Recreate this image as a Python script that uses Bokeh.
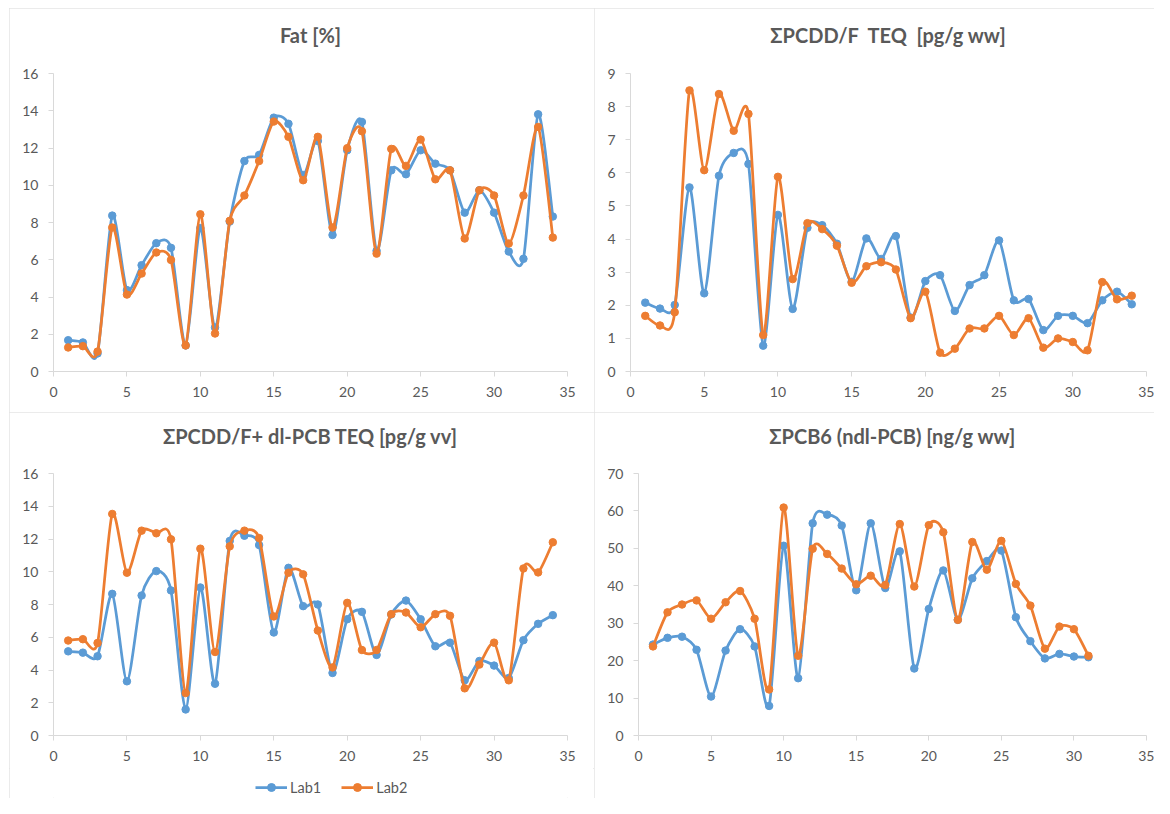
from bokeh.plotting import figure
from bokeh.layouts import column, row
from bokeh.models import Range1d, FixedTicker, Legend, LegendItem, Spacer, Title
from bokeh.embed import file_html
from bokeh.resources import INLINE

# ---------------- data ----------------
samples34 = list(range(1, 35))
samples31 = list(range(1, 32))

fat_lab1 = [1.68, 1.56, 0.97, 8.37, 4.37, 5.71, 6.89, 6.64, 1.40, 7.7, 2.36, 8.05, 11.3, 11.63, 13.63, 13.3,
            10.55, 12.38, 7.33, 11.88, 13.4, 6.48, 10.8, 10.59, 11.88, 11.16, 10.8, 8.53, 9.73, 8.53, 6.44, 6.05, 13.81, 8.32]
fat_lab2 = [1.29, 1.36, 1.07, 7.73, 4.13, 5.26, 6.39, 5.99, 1.40, 8.44, 2.04, 8.09, 9.45, 11.3, 13.42, 12.6,
            10.27, 12.6, 7.73, 11.99, 12.9, 6.33, 11.95, 11.04, 12.45, 10.32, 10.8, 7.14, 9.73, 9.45, 6.87, 9.45, 13.13, 7.19]

teq_lab1 = [2.08, 1.90, 2.01, 5.56, 2.36, 5.91, 6.60, 6.27, 0.78, 4.73, 1.89, 4.34, 4.42, 3.86, 2.71, 4.02,
            3.40, 4.09, 1.63, 2.73, 2.91, 1.83, 2.61, 2.91, 3.96, 2.15, 2.19, 1.25, 1.68, 1.68, 1.46, 2.15, 2.41, 2.03]
teq_lab2 = [1.68, 1.39, 1.79, 8.49, 6.08, 8.38, 7.27, 7.78, 1.10, 5.88, 2.79, 4.48, 4.30, 3.80, 2.68, 3.18,
            3.30, 3.08, 1.61, 2.41, 0.57, 0.69, 1.30, 1.30, 1.68, 1.10, 1.61, 0.72, 1.00, 0.89, 0.64, 2.70, 2.18, 2.29]

tot_lab1 = [5.14, 5.06, 4.84, 8.65, 3.31, 8.55, 10.04, 8.86, 1.59, 9.04, 3.16, 11.88, 12.2, 11.63, 6.29, 10.24,
            7.90, 8.0, 3.82, 7.10, 7.55, 4.92, 7.39, 8.24, 7.10, 5.45, 5.67, 3.37, 4.55, 4.27, 3.51, 5.82, 6.82, 7.35]
tot_lab2 = [5.80, 5.88, 5.65, 13.53, 9.94, 12.51, 12.35, 11.98, 2.59, 11.41, 5.10, 11.55, 12.51, 12.06, 7.27, 9.94,
            9.84, 6.41, 4.16, 8.10, 5.22, 5.22, 7.41, 7.51, 6.61, 7.41, 7.31, 2.88, 4.33, 5.67, 3.37, 10.2, 9.96, 11.8]

pcb_lab1 = [24.3, 26.1, 26.4, 22.9, 10.4, 22.7, 28.4, 23.8, 7.9, 50.7, 15.3, 56.7, 59.0, 56.1, 38.8, 56.7,
            39.4, 49.2, 17.9, 33.8, 44.1, 30.9, 42.0, 46.6, 49.4, 31.6, 25.2, 20.6, 21.8, 21.1, 20.9]
pcb_lab2 = [23.8, 32.9, 35.0, 36.1, 31.2, 35.6, 38.6, 31.2, 12.3, 60.9, 21.3, 49.9, 48.5, 44.6, 40.4, 42.7,
            40.2, 56.5, 39.8, 56.2, 54.3, 30.9, 51.7, 44.3, 52.0, 40.5, 34.7, 23.2, 29.1, 28.4, 21.3]

titles = ["Fat [%]", "ΣPCDD/F\u00a0 TEQ\u00a0 [pg/g ww]", "ΣPCDD/F+ dl-PCB TEQ [pg/g vv]", "ΣPCB6 (ndl-PCB) [ng/g ww]"]
series_names = ["Lab1", "Lab2"]
x_ticks = [0, 5, 10, 15, 20, 25, 30, 35]

# ---------------- style ----------------
BLUE = "#5B9BD5"
ORANGE = "#ED7D31"
FONT = "Lato"
TICK_COLOR = "#595959"
AXIS_COLOR = "#D9D9D9"
BORDER = {"outline": "1px solid #E4E4E4", "outline-offset": "-1px"}
SMOOTH = 1.0 / 8.0


def bezier_segments(xs, ys):
    n = len(xs)
    d = dict(x0=[], y0=[], x1=[], y1=[], cx0=[], cy0=[], cx1=[], cy1=[])
    for i in range(n - 1):
        a = i - 1 if i > 0 else i
        b = i + 2 if i + 2 < n else i + 1
        d["x0"].append(xs[i]); d["y0"].append(ys[i])
        d["x1"].append(xs[i + 1]); d["y1"].append(ys[i + 1])
        d["cx0"].append(xs[i] + (xs[i + 1] - xs[a]) * SMOOTH)
        d["cy0"].append(ys[i] + (ys[i + 1] - ys[a]) * SMOOTH)
        d["cx1"].append(xs[i + 1] - (xs[b] - xs[i]) * SMOOTH)
        d["cy1"].append(ys[i + 1] - (ys[b] - ys[i]) * SMOOTH)
    return d


def add_series(p, xs, s1, s2):
    rends = []
    for ys, col in ((s1, BLUE), (s2, ORANGE)):
        seg = bezier_segments(xs, ys)
        bz = p.bezier(source=seg, x0="x0", y0="y0", x1="x1", y1="y1",
                      cx0="cx0", cy0="cy0", cx1="cx1", cy1="cy1",
                      line_color=col, line_width=2.75)
        sc = p.scatter(xs, ys, size=7.5, marker="circle", fill_color=col, line_color=col)
        rends.append([bz, sc])
    return rends


def make_panel(title, xs, s1, s2, ymax, ystep, width, height, borders, gap, styles=BORDER):
    bl, br, bt, bb = borders
    p = figure(width=width, height=height, output_backend="svg", toolbar_location=None,
               x_range=Range1d(0, 35), y_range=Range1d(0, ymax),
               min_border_left=bl, min_border_right=br, min_border_top=bt, min_border_bottom=bb,
               background_fill_color="white", border_fill_color="white", styles=styles)
    p.outline_line_color = None
    p.grid.visible = False
    p.title.text = ""
    p.add_layout(Title(text=" ", text_font_size="10px", standoff=gap, text_color="white"), "above")
    p.add_layout(Title(text=title, align="center", vertical_align="top", standoff=0,
                       text_font=FONT, text_font_style="bold", text_font_size="20px",
                       text_color="#595959"), "above")

    p.xaxis.ticker = FixedTicker(ticks=x_ticks)
    p.yaxis.ticker = FixedTicker(ticks=list(range(0, ymax + 1, ystep)))
    for ax in (p.xaxis[0], p.yaxis[0]):
        ax.axis_line_color = AXIS_COLOR
        ax.major_tick_line_color = AXIS_COLOR
        ax.major_tick_out = 5
        ax.major_tick_in = 0
        ax.minor_tick_line_color = None
        ax.major_label_text_font = FONT
        ax.major_label_text_font_size = "14px"
        ax.major_label_text_color = TICK_COLOR
        ax.major_label_standoff = 10
    add_series(p, xs, s1, s2)
    return p


p1 = make_panel(titles[0], samples34, fat_lab1, fat_lab2, 16, 2, 585, 404, (44, 27, 65, 41), 12)
p2 = make_panel(titles[1], samples34, teq_lab1, teq_lab2, 9, 1, 560, 404, (36, 8, 65, 41), 12)
p3 = make_panel(titles[2], samples34, tot_lab1, tot_lab2, 16, 2, 585, 356, (44, 27, 61, 33), 11, styles={})
p4 = make_panel(titles[3], samples31, pcb_lab1, pcb_lab2, 70, 10, 560, 386, (44, 8, 61, 63), 11)

# legend strip under the bottom-left chart (its own renderers sit outside the visible range)
pl = figure(width=585, height=30, output_backend="svg", toolbar_location=None,
            x_range=Range1d(0, 35), y_range=Range1d(-200, -199),
            x_axis_location=None, y_axis_location=None,
            min_border_left=0, min_border_right=0, min_border_top=0, min_border_bottom=0,
            background_fill_color="white", border_fill_color="white")
pl.outline_line_color = None
pl.grid.visible = False
lrends = add_series(pl, samples34, tot_lab1, tot_lab2)
lg = Legend(items=[LegendItem(label=series_names[0], renderers=lrends[0]),
                   LegendItem(label=series_names[1], renderers=lrends[1])],
            orientation="horizontal", location=(202, 1),
            background_fill_alpha=0, border_line_color=None,
            padding=0, margin=0, spacing=20, glyph_width=32, glyph_height=20,
            label_standoff=3, label_text_font=FONT, label_text_font_size="14.5px",
            label_text_color=TICK_COLOR)
pl.add_layout(lg)

bottom_left = column(p3, pl, spacing=0, styles=BORDER)
grid = column(Spacer(height=8), row(p1, p2, spacing=0), row(bottom_left, p4, spacing=0), spacing=0)
layout = row(Spacer(width=9), grid, spacing=0)

open("out.html", "w").write(file_html(layout, INLINE))
